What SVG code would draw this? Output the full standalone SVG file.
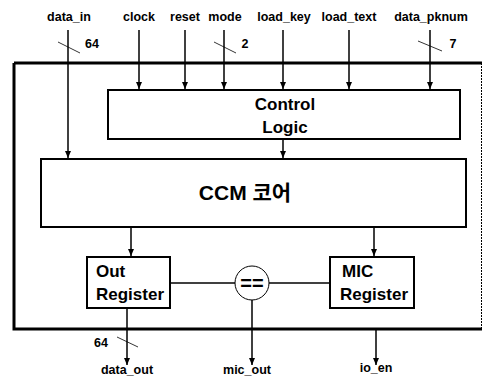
<svg xmlns="http://www.w3.org/2000/svg" width="483" height="376" viewBox="0 0 483 376">
<style>
.lbl{font-family:"Liberation Sans",Arial,sans-serif;font-weight:bold;font-size:12.5px;fill:#000;text-anchor:middle}
.big{font-family:"Liberation Sans",Arial,sans-serif;font-weight:bold;font-size:17px;fill:#000}
.box{fill:#fff;stroke:#000;stroke-width:2}
.w{stroke:#000;stroke-width:1.5;fill:none}
.sl{stroke:#000;stroke-width:0.8;fill:none}
</style>
<defs>
<marker id="arr" viewBox="0 0 7 6" refX="7" refY="3" markerWidth="7" markerHeight="6" markerUnits="userSpaceOnUse" orient="auto">
<path d="M0,0 L7,3 L0,6 Z" fill="#000"/>
</marker>
</defs>
<rect width="483" height="376" fill="#fff"/>
<g id="outer">
<path d="M14,63 H482" stroke="#000" stroke-width="3" fill="none"/>
<path d="M14,63 V329 H482" stroke="#000" stroke-width="3" fill="none"/>
<path d="M481.5,63 V329" stroke="#000" stroke-width="1" stroke-dasharray="2,1" fill="none"/>
</g>
<g id="connectors">
<path class="w" d="M68,30 V158" marker-end="url(#arr)"/>
<path class="w" d="M139,30 V89" marker-end="url(#arr)"/>
<path class="w" d="M185,30 V89" marker-end="url(#arr)"/>
<path class="w" d="M224,30 V89" marker-end="url(#arr)"/>
<path class="w" d="M283,30 V89" marker-end="url(#arr)"/>
<path class="w" d="M349,30 V89" marker-end="url(#arr)"/>
<path class="w" d="M430,30 V89" marker-end="url(#arr)"/>
<path class="w" d="M283,139 V158" marker-end="url(#arr)"/>
<path class="w" d="M131,227 V256" marker-end="url(#arr)"/>
<path class="w" d="M374,227 V256" marker-end="url(#arr)"/>
<path class="w" d="M127,308 V365" marker-end="url(#arr)"/>
<path class="w" d="M252,300 V365" marker-end="url(#arr)"/>
<path class="w" d="M376,329 V365" marker-end="url(#arr)"/>
<path class="w" d="M170,283 H235"/>
<path class="w" d="M269,283 H330"/>
<path class="sl" d="M58,42 L80,53"/>
<path class="sl" d="M214,42 L236,53"/>
<path class="sl" d="M418,41 L442,51"/>
<path class="sl" d="M117,337 L138,347"/>
</g>
<g id="labels-top">
<text class="lbl" x="69" y="21">data_in</text>
<text class="lbl" x="139" y="21">clock</text>
<text class="lbl" x="185" y="21">reset</text>
<text class="lbl" x="225" y="21">mode</text>
<text class="lbl" x="284" y="21">load_key</text>
<text class="lbl" x="349" y="21">load_text</text>
<text class="lbl" x="431" y="21">data_pknum</text>
<text class="lbl" x="92" y="48">64</text>
<text class="lbl" x="245" y="48">2</text>
<text class="lbl" x="453" y="48">7</text>
</g>
<g id="control">
<rect class="box" x="108" y="90" width="352" height="49" stroke-width="1.5"/>
<text class="big" x="285" y="110" text-anchor="middle">Control</text>
<text class="big" x="285" y="133" text-anchor="middle">Logic</text>
</g>
<g id="ccm">
<rect class="box" x="41" y="159" width="425" height="68"/>
<text class="big" x="245" y="200" text-anchor="middle" style="font-size:21px;font-family:'Liberation Sans','Noto Sans CJK KR',sans-serif">CCM 코어</text>
</g>
<g id="outreg">
<rect class="box" x="87" y="257" width="83" height="51"/>
<text class="big" x="96" y="277">Out</text>
<text class="big" x="96" y="300">Register</text>
</g>
<g id="micreg">
<rect class="box" x="330" y="257" width="84" height="51"/>
<text class="big" x="342" y="277">MIC</text>
<text class="big" x="340" y="300">Register</text>
</g>
<g id="cmp">
<circle cx="252" cy="283" r="17" fill="#fff" stroke="#000" stroke-width="1"/>
<text class="big" x="252" y="290" text-anchor="middle" style="font-size:20px">==</text>
</g>
<g id="labels-bottom">
<text class="lbl" x="101" y="347">64</text>
<text class="lbl" x="127" y="374">data_out</text>
<text class="lbl" x="247" y="374">mic_out</text>
<text class="lbl" x="376" y="372">io_en</text>
</g>
</svg>
